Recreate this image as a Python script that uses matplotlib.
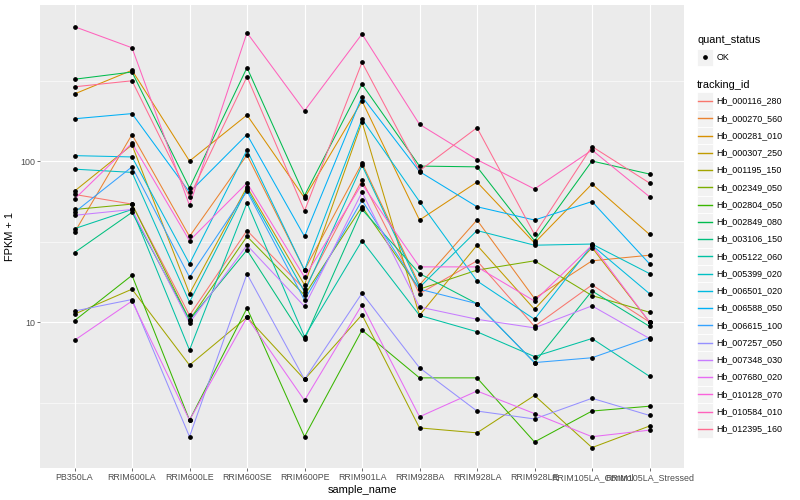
"""Expression profiles of tracking ids across samples -> out.png"""
import matplotlib
matplotlib.use("Agg")
import matplotlib.pyplot as plt
from matplotlib.patches import Rectangle
from matplotlib.lines import Line2D

plt.rcParams['font.family'] = ['Liberation Sans', 'DejaVu Sans']

samples = ["PB350LA", "RRIM600LA", "RRIM600LE", "RRIM600SE", "RRIM600PE",
           "RRIM901LA", "RRIM928BA", "RRIM928LA", "RRIM928LE",
           "RRIM105LA_Control", "RRIM105LA_Stressed"]

tracking_ids = ["Hb_000116_280", "Hb_000270_560", "Hb_000281_010", "Hb_000307_250",
                "Hb_001195_150", "Hb_002349_050", "Hb_002804_050", "Hb_002849_080",
                "Hb_003106_150", "Hb_005122_060", "Hb_005399_020", "Hb_006501_020",
                "Hb_006588_050", "Hb_006615_100", "Hb_007257_050", "Hb_007348_030",
                "Hb_007680_020", "Hb_010128_070", "Hb_010584_010", "Hb_012395_160"]

# ggplot default hue palette for 20 levels
colors = ["#F8766D", "#EA8331", "#D89000", "#C09B00", "#A3A500", "#7CAE00",
          "#39B600", "#00BB4E", "#00BF7D", "#00C1A3", "#00BFC4", "#00BAE0",
          "#00B0F6", "#35A2FF", "#9590FF", "#C77CFF", "#E76BF3", "#FA62DB",
          "#FF62BC", "#FF6C91"]

# FPKM + 1, one list per tracking id (same order as samples)
hb_000116_280 = [62, 54, 11, 37, 16, 76, 15, 24, 9.4, 17, 10]
hb_000270_560 = [36, 146, 34, 109, 21, 97, 17, 43, 14, 24, 26]
hb_000281_010 = [261, 366, 100, 193, 59, 236, 43, 74, 31, 72, 35]
hb_000307_250 = [65, 126, 15, 69, 17, 175, 11, 30, 12, 29, 10]
hb_001195_150 = [11.2, 16, 5.4, 10.7, 4.4, 11.1, 2.2, 2.05, 3.5, 1.66, 2.26]
hb_002349_050 = [50, 54, 10.3, 34, 14.7, 52, 16, 21, 24, 14.6, 11.5]
hb_002804_050 = [10.2, 19.5, 2.46, 12.2, 1.94, 8.9, 4.5, 4.5, 1.8, 2.8, 3.0]
hb_002849_080 = [322, 357, 68, 380, 61, 300, 93, 92, 32, 100, 83]
hb_003106_150 = [27, 48, 10.3, 28, 7.8, 50, 20, 13, 5.6, 15.6, 9.4]
hb_005122_060 = [38, 50, 6.7, 55, 8.1, 32, 11, 8.7, 6.1, 7.9, 4.6]
hb_005399_020 = [89, 85, 13.3, 67, 15.4, 94, 16.4, 37, 30, 30.5, 20]
hb_006501_020 = [108, 106, 23, 117, 21, 182, 56, 18, 10.4, 30, 15]
hb_006588_050 = [183, 197, 64, 146, 34, 251, 86, 52, 43, 56, 23]
hb_006615_100 = [48, 92, 19, 65, 13.7, 57, 16, 13, 5.6, 6, 8]
hb_007257_050 = [11.7, 13.8, 1.94, 19.9, 4.4, 15.1, 5.2, 2.8, 2.5, 3.36, 2.63]
hb_007348_030 = [46, 50, 9.9, 30, 12.5, 64, 12.4, 10.4, 9.2, 12.6, 7.9]
hb_007680_020 = [7.7, 13.5, 2.46, 10.7, 3.26, 12.8, 2.58, 3.73, 2.7, 1.94, 2.13]
hb_010128_070 = [58, 129, 32, 73, 19, 72, 22, 22, 13.5, 30, 10]
hb_010584_010 = [683, 505, 53, 626, 205, 615, 169, 102, 67, 117, 60]
hb_012395_160 = [289, 315, 60, 334, 49, 410, 87, 161, 35, 123, 73]

series = [hb_000116_280, hb_000270_560, hb_000281_010, hb_000307_250, hb_001195_150,
          hb_002349_050, hb_002804_050, hb_002849_080, hb_003106_150, hb_005122_060,
          hb_005399_020, hb_006501_020, hb_006588_050, hb_006615_100, hb_007257_050,
          hb_007348_030, hb_007680_020, hb_010128_070, hb_010584_010, hb_012395_160]

W, H = 800, 500
fig = plt.figure(figsize=(W / 100, H / 100), dpi=100)
ax = fig.add_axes([40 / W, 1 - 468 / H, 644 / W, 463 / H])
ax.set_facecolor("#EBEBEB")

xs = list(range(len(samples)))
for vals, c in zip(series, colors):
    ax.plot(xs, vals, color=c, lw=0.75, zorder=2)
for vals in series:
    ax.plot(xs, vals, ls="none", marker="o", ms=2.4, color="black", zorder=3)

ax.set_yscale("log")
ax.set_ylim(1.24, 931)
ax.set_xlim(-0.6, len(samples) - 0.4)
ax.set_xticks(xs)
ax.set_xticklabels(samples)
ax.set_yticks([10, 100])
ax.set_yticklabels(["10", "100"])
ax.set_yticks([10 ** 0.5, 10 ** 1.5, 10 ** 2.5], minor=True)
ax.set_yticklabels([], minor=True)
ax.tick_params(which="major", length=2, width=0.5, color="#333333",
               labelsize=6.4, labelcolor="#4D4D4D", pad=1.5)
ax.tick_params(which="minor", length=0)
ax.grid(which="major", color="white", lw=0.8, zorder=0)
ax.grid(which="minor", axis="y", color="white", lw=0.4, zorder=0)
ax.set_axisbelow(True)
for s in ax.spines.values():
    s.set_visible(False)

ax.set_xlabel("sample_name", fontsize=7.9, labelpad=2)
ax.set_ylabel("FPKM + 1", fontsize=7.9, labelpad=4)


# legend drawn by hand in pixel coords (top-left origin)
def fx(x):
    return x / W


def fy(y):
    return 1 - y / H


def key(yc, h=17.26):
    fig.add_artist(Rectangle((fx(697), fy(yc + h / 2)), 16 / W, h / H,
                             transform=fig.transFigure, fc="#F2F2F2", ec="white", lw=0.6))


fig.text(fx(697), fy(40), "quant_status", fontsize=7.9, va="center", ha="left")
key(57.3)
fig.add_artist(Line2D([fx(705)], [fy(57.3)], marker="o", ms=2.4, color="black",
                      transform=fig.transFigure))
fig.text(fx(716.5), fy(57.3), "OK", fontsize=6.4, va="center", ha="left")

fig.text(fx(697), fy(84.5), "tracking_id", fontsize=7.9, va="center", ha="left")
for i, (tid, c) in enumerate(zip(tracking_ids, colors)):
    yc = 101 + 17.26 * i
    key(yc)
    fig.add_artist(Line2D([fx(698), fx(712)], [fy(yc), fy(yc)], color=c, lw=1.0,
                          transform=fig.transFigure, zorder=5))
    fig.text(fx(716.5), fy(yc), tid, fontsize=6.4, va="center", ha="left")

fig.savefig("out.png", dpi=100)
print("[saved] out.png")
